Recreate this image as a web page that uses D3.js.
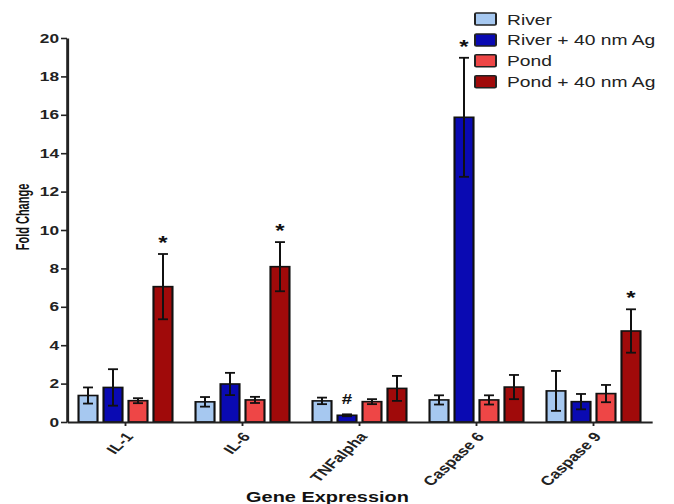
<!DOCTYPE html>
<html>
<head>
<meta charset="utf-8">
<script src="https://cdn.jsdelivr.net/npm/d3@7"></script>
<style>
  body { margin: 0; background: #fff; }
  text { font-family: "Liberation Sans", Arial, Helvetica, sans-serif; }
</style>
</head>
<body>
<script>
// data
var genes = ["IL-1", "IL-6", "TNFalpha", "Caspase 6", "Caspase 9"];
var seriesNames = ["River", "River + 40 nm Ag", "Pond", "Pond + 40 nm Ag"];
var seriesColors = ["#a6c8f0", "#0a0ab2", "#ee4646", "#a00a0a"];

var river      = [1.38, 1.05, 1.10, 1.15, 1.62];
var riverErr   = [0.42, 0.25, 0.17, 0.24, 1.04];
var riverAg    = [1.80, 1.98, 0.35, 15.87, 1.06];
var riverAgErr = [0.95, 0.58, 0.05, 3.10, 0.40];
var pond       = [1.11, 1.15, 1.06, 1.15, 1.48];
var pondErr    = [0.13, 0.16, 0.13, 0.24, 0.45];
var pondAg     = [7.05, 8.09, 1.75, 1.82, 4.74];
var pondAgErr  = [1.70, 1.28, 0.65, 0.63, 1.13];

var yTicks = [0, 2, 4, 6, 8, 10, 12, 14, 16, 18, 20];

var marks = [
  { gene: "IL-1", series: "Pond + 40 nm Ag", label: "*" },
  { gene: "IL-6", series: "Pond + 40 nm Ag", label: "*" },
  { gene: "TNFalpha", series: "River + 40 nm Ag", label: "#" },
  { gene: "Caspase 6", series: "River + 40 nm Ag", label: "*" },
  { gene: "Caspase 9", series: "Pond + 40 nm Ag", label: "*" }
];

var values = [river, riverAg, pond, pondAg];
var errors = [riverErr, riverAgErr, pondErr, pondAgErr];

// the original picture is stretched sideways, so draw in a narrower box and stretch it
var sx = 1.33;
var width = 674 / sx, height = 504;

var rows = [];
genes.forEach(function (g, gi) {
  seriesNames.forEach(function (s, si) {
    rows.push({ gene: g, series: s, si: si, value: values[si][gi], err: errors[si][gi] });
  });
});

var svg = d3.select("body").append("svg")
  .attr("width", 674)
  .attr("height", 504)
  .attr("viewBox", "0 0 " + width + " " + height)
  .attr("preserveAspectRatio", "none");

var x = d3.scaleBand()
  .domain(genes)
  .range([67 / sx, 652 / sx])
  .paddingInner(0.197)
  .paddingOuter(0.0985);

var xs = d3.scaleBand()
  .domain(seriesNames)
  .range([0, x.bandwidth()])
  .paddingInner(0.24);

var y = d3.scaleLinear().domain([0, 20]).range([422, 38]);

var color = d3.scaleOrdinal().domain(seriesNames).range(seriesColors);

// bars
svg.append("g")
  .selectAll("rect")
  .data(rows)
  .enter().append("rect")
  .attr("x", function (d) { return x(d.gene) + xs(d.series); })
  .attr("y", function (d) { return y(d.value); })
  .attr("width", xs.bandwidth())
  .attr("height", function (d) { return y(0) - y(d.value); })
  .style("fill", function (d) { return color(d.series); })
  .style("stroke", "#111")
  .style("stroke-width", 1.6);

// error bars
var capW = 7.5;
var eb = svg.append("g")
  .style("stroke", "#111")
  .style("stroke-width", 1.8)
  .selectAll("g")
  .data(rows)
  .enter().append("g")
  .attr("transform", function (d) { return "translate(" + (x(d.gene) + xs(d.series) + xs.bandwidth() / 2) + ",0)"; });

eb.append("line")
  .attr("y1", function (d) { return y(d.value - d.err); })
  .attr("y2", function (d) { return y(d.value + d.err); })
  .style("stroke-width", 1.5);
eb.append("line")
  .attr("x1", -capW / 2).attr("x2", capW / 2)
  .attr("y1", function (d) { return y(d.value + d.err); })
  .attr("y2", function (d) { return y(d.value + d.err); });
eb.append("line")
  .attr("x1", -capW / 2).attr("x2", capW / 2)
  .attr("y1", function (d) { return y(d.value - d.err); })
  .attr("y2", function (d) { return y(d.value - d.err); });

// axes
var yAxis = svg.append("g")
  .attr("transform", "translate(" + (67 / sx) + ",0)")
  .call(d3.axisLeft(y).tickValues(yTicks).tickSize(4.5).tickSizeOuter(0).tickPadding(1.5));
yAxis.select(".domain").style("stroke", "#222").style("stroke-width", 2.2);
yAxis.selectAll(".tick line").style("stroke", "#222").style("stroke-width", 1.6);
yAxis.selectAll(".tick text")
  .style("font-size", "13px")
  .style("font-weight", "bold")
  .style("fill", "#222");

var xAxis = svg.append("g")
  .attr("transform", "translate(0," + y(0) + ")")
  .call(d3.axisBottom(x).tickSize(4).tickSizeOuter(0).tickFormat(""));
xAxis.select(".domain").style("stroke", "#222").style("stroke-width", 2);
xAxis.selectAll(".tick line").style("stroke", "#222").style("stroke-width", 1.4);

svg.append("g")
  .selectAll("text")
  .data(genes)
  .enter().append("text")
  .attr("transform", function (d) { return "translate(" + (x(d) + x.bandwidth() / 2 + 6.5) + ",437) rotate(-51)"; })
  .style("text-anchor", "end")
  .style("font-size", "13px")
  .style("font-weight", "bold")
  .style("fill", "#222")
  .text(function (d) { return d; });

// axis titles
svg.append("text")
  .attr("transform", "translate(" + (29 / sx) + ",217) rotate(-90) scale(1,1.3)")
  .style("text-anchor", "middle")
  .style("font-size", "11px")
  .style("font-weight", "bold")
  .style("fill", "#111")
  .text("Fold Change");

svg.append("text")
  .attr("x", 327.5 / sx)
  .attr("y", 502)
  .style("text-anchor", "middle")
  .style("font-size", "15px")
  .style("font-weight", "bold")
  .style("fill", "#111")
  .text("Gene Expression");

// significance marks
var rowOf = function (m) {
  return rows.filter(function (r) { return r.gene === m.gene && r.series === m.series; })[0];
};
svg.append("g")
  .selectAll("text")
  .data(marks)
  .enter().append("text")
  .attr("x", function (m) { return x(m.gene) + xs(m.series) + xs.bandwidth() / 2; })
  .attr("y", function (m) { var r = rowOf(m); return y(r.value + r.err) - 15; })
  .attr("dy", function (m) { return m.label === "*" ? "0.56em" : "0.36em"; })
  .style("text-anchor", "middle")
  .style("font-size", function (m) { return m.label === "*" ? "18px" : "14px"; })
  .style("font-weight", "bold")
  .style("fill", "#111")
  .text(function (m) { return m.label; });

// legend
var legend = svg.append("g")
  .attr("transform", "translate(" + (475 / sx) + ",13)");

var item = legend.selectAll("g")
  .data(seriesNames)
  .enter().append("g")
  .attr("transform", function (d, i) { return "translate(0," + (i * 20.9) + ")"; });

item.append("rect")
  .attr("width", 21 / sx)
  .attr("height", 12)
  .attr("rx", 1)
  .style("fill", function (d) { return color(d); })
  .style("stroke", "#222")
  .style("stroke-width", 1.5);

item.append("text")
  .attr("x", 32 / sx)
  .attr("y", 11.5)
  .style("font-size", "14.5px")
  .style("fill", "#222")
  .text(function (d) { return d; });
</script>
</body>
</html>
